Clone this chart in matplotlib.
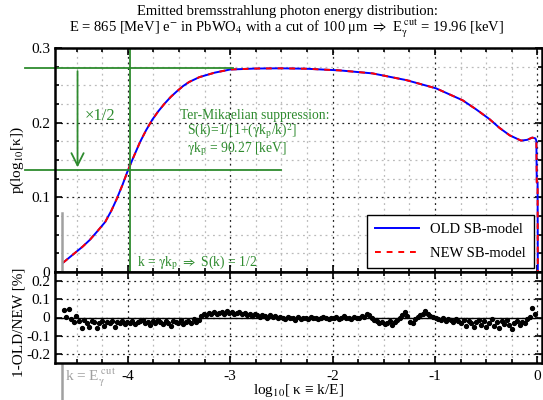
import numpy as np
import matplotlib
matplotlib.use('Agg')
import matplotlib.pyplot as plt
from matplotlib.ticker import MultipleLocator, FixedLocator
from matplotlib.transforms import blended_transform_factory

plt.rcParams['font.family'] = ['Liberation Serif', 'DejaVu Serif']
plt.rcParams['mathtext.fontset'] = 'stix'
plt.rcParams['font.size'] = 11

# physics numbers shown in the chart
E_BEAM_MEV = 865.0
E_CUT_KEV = 19.96
GKP_KEV = 90.27
L_CUT = np.log10(E_CUT_KEV * 1e-3 / E_BEAM_MEV)
L_GKP = np.log10(GKP_KEV * 1e-3 / E_BEAM_MEV)

# distribution p(log10 kappa)
curve_L = [-4.63, -4.52, -4.44, -4.37, -4.3, -4.22, -4.16, -4.11, -4.05, -4.0,
           -3.94, -3.88, -3.82, -3.76, -3.7, -3.64, -3.58, -3.52, -3.46, -3.4,
           -3.3, -3.15, -3.0, -2.75, -2.5, -2.25, -1.93, -1.61, -1.28, -0.99,
           -0.73, -0.6, -0.47, -0.37, -0.27, -0.16, -0.1, -0.05, -0.02, -0.01,
           -0.006, 0.002, 0.004]
curve_old = [0.0126, 0.025, 0.034, 0.043, 0.054, 0.067, 0.082, 0.097, 0.117, 0.1355,
             0.155, 0.174, 0.19, 0.204, 0.2155, 0.2255, 0.2345, 0.242, 0.249, 0.2545,
             0.261, 0.267, 0.2712, 0.2725, 0.2728, 0.2722, 0.270, 0.266, 0.257, 0.246,
             0.230, 0.218, 0.205, 0.193, 0.183, 0.176, 0.177, 0.180, 0.179, 0.176,
             0.12, 0.12, 0.0]
curve_new = list(curve_old)

# relative difference 1-OLD/NEW [%]
resid_vals = [
    0.04, 0.005, 0.046, -0.01, -0.025, 0.01, -0.02, -0.055, -0.015, -0.03,
    -0.05, -0.02, -0.025, -0.055, -0.03, -0.02, -0.045, -0.025, -0.03, -0.02,
    -0.05, -0.025, -0.03, -0.02, -0.035, -0.025,
    -0.03, -0.02, -0.035, -0.025, -0.02, -0.015, -0.03, -0.025, -0.04, -0.02,
    -0.03, -0.015, -0.025, -0.035, -0.02, -0.03, -0.045, -0.02, -0.025, -0.03,
    -0.015, -0.035, -0.025, -0.02, -0.03, -0.01, -0.025, -0.015,
    0.01, 0.02, 0.015, 0.025, 0.02, 0.03, 0.02, 0.025, 0.03, 0.02,
    0.035, 0.025, 0.03, 0.02, 0.025, 0.03, 0.02, 0.025, 0.015, 0.02,
    0.01, 0.02, 0.015, 0.005, 0.015, 0.01, 0.0, 0.015, 0.005, 0.01, 0.0, 0.005,
    0.0, -0.01, 0.005, -0.005, 0.0, -0.015, 0.005, -0.01, 0.0, -0.005,
    -0.01, 0.005, -0.005, 0.0, -0.01, 0.0, 0.005, -0.005, -0.01, 0.0,
    -0.005, 0.005, -0.01, 0.0, 0.01, -0.005, 0.0, -0.01, 0.005, 0.0,
    -0.005, 0.01, 0.005, 0.02, 0.015, 0.0, -0.015, -0.02, -0.03, -0.025,
    -0.035, -0.03, -0.02, -0.04, -0.025, -0.015, 0.0, 0.015, 0.03, 0.01,
    -0.025, -0.03, -0.01, 0.005, 0.015, 0.02, 0.035, 0.02, 0.01, 0.005,
    -0.005, -0.01, -0.015, -0.005, -0.02, -0.01, -0.015, -0.025, -0.01, -0.02,
    -0.03, -0.015, -0.045, -0.02, -0.03, -0.05, -0.025, -0.015, -0.04, -0.02,
    -0.05, -0.03, -0.01, -0.045, -0.025, -0.06, -0.02, -0.035, -0.015, -0.04,
    -0.065, -0.03, -0.02, -0.04, -0.025, -0.03, -0.01, 0.005, 0.05, 0.02,
]
resid_L = np.linspace(-4.625, -0.025, len(resid_vals))

GREEN = '#2e8b2e'
GRAY = '#a0a0a0'

fig = plt.figure(figsize=(5.43, 4.0), dpi=100)
ax1 = fig.add_axes([55 / 543, 1 - 272 / 400, 487 / 543, 224 / 400])
ax2 = fig.add_axes([55 / 543, 1 - 363 / 400, 487 / 543, 91 / 400], sharex=ax1)

xlim = (-4.71, 0.045)

for ax in (ax1, ax2):
    ax.set_xlim(*xlim)
    ax.xaxis.set_major_locator(MultipleLocator(1))
    ax.xaxis.set_minor_locator(MultipleLocator(0.25))
    ax.tick_params(which='both', direction='in', top=True, right=True, width=1.2)
    ax.tick_params(which='major', length=5)
    ax.tick_params(which='minor', length=3)
    ax.grid(which='major', linestyle=(0, (1.5, 3)), color='#222222', linewidth=0.9)
    ax.grid(which='minor', linestyle=(0, (1.5, 3)), color='#bbbbbb', linewidth=0.9)
    for sp in ax.spines.values():
        sp.set_linewidth(1.8)

# top panel
ax1.set_ylim(0, 0.3)
ax1.yaxis.set_major_locator(FixedLocator([0, 0.1, 0.2, 0.3]))
ax1.yaxis.set_minor_locator(MultipleLocator(0.025))
ax1.set_yticklabels(['0', '0.1', '0.2', '0.3'])
ax1.tick_params(labelbottom=False)

ax1.plot(curve_L, curve_old, color='blue', linewidth=1.4, label='OLD SB-model')
ax1.plot(curve_L, curve_new, color='red', linewidth=1.4, linestyle=(0, (3, 3)),
         label='NEW SB-model')

pmax = max(curve_old)
ax1.plot([-5.0, -2.97], [pmax, pmax], color=GREEN, linewidth=1.3, clip_on=False)
ax1.plot([-5.0, -2.5], [pmax / 2, pmax / 2], color=GREEN, linewidth=1.3, clip_on=False)
ax1.plot([L_GKP, L_GKP], [0, 0.3], color=GREEN, linewidth=1.3)
ax1.annotate('', xy=(-4.49, pmax / 2), xytext=(-4.49, pmax),
             arrowprops=dict(arrowstyle='->', color=GREEN, lw=1.3,
                             mutation_scale=22))
ax1.text(-4.42, 0.209, '×1/2', color=GREEN, fontsize=12, va='center', ha='left')
ax1.text(-3.49, 0.210, 'Ter-Mikaelian suppression:', color=GREEN, fontsize=9.8,
         va='center', ha='left')
ax1.text(-3.42, 0.188, r'S(k)=1/[1+($\mathrm{\gamma}$k$_\mathrm{p}$/k)$^2$]',
         color=GREEN, fontsize=9.8, va='center', ha='left')
ax1.text(-3.42, 0.165, r'$\mathrm{\gamma}$k$_\mathrm{p}$ = 90.27 [keV]',
         color=GREEN, fontsize=9.8, va='center', ha='left')
ax1.text(-3.91, 0.013,
         r'k = $\mathrm{\gamma}$k$_\mathrm{p}$ $\Rightarrow$ S(k) = 1/2',
         color=GREEN, fontsize=9.8, va='center', ha='left')

leg = ax1.legend(loc='lower right', bbox_to_anchor=(0.984, 0.018), fontsize=10.5,
                 fancybox=False, edgecolor='black', framealpha=1,
                 handlelength=3.0, labelspacing=0.75, borderpad=0.55,
                 borderaxespad=0)
leg.get_frame().set_linewidth(1.0)

ax1.set_ylabel(r'p(log$_{10}$[κ])', fontsize=11)
ax1.yaxis.set_label_coords(-0.06, 0.5)

# bottom panel
ax2.set_ylim(-0.25, 0.25)
ax2.yaxis.set_major_locator(FixedLocator([-0.2, -0.1, 0, 0.1, 0.2]))
ax2.set_yticklabels(['-0.2', '-0.1', '0', '0.1', '0.2'])
ax2.grid(which='minor', axis='y', visible=False)
ax2.axhline(0, color='black', linewidth=1.0)
ax2.plot(resid_L, resid_vals, linestyle='none', marker='o', markersize=2.8,
         color='black')
ax2.set_xticks([-4, -3, -2, -1, 0])
ax2.set_xticklabels(['-4', '-3', '-2', '-1', '0'])
ax2.tick_params(axis='x', pad=5)
ax2.set_ylabel('1-OLD/NEW [%]', fontsize=11)
ax2.yaxis.set_label_coords(-0.06, 0.45)
ax2.set_xlabel(r'log$_{10}$[ κ ≡ k/E]', fontsize=11, labelpad=-1)

# energy cut marker, spans both panels down to the figure edge
tr = blended_transform_factory(ax1.transData, fig.transFigure)
ax1.plot([L_CUT, L_CUT], [0.0, 1 - 213 / 400], color=GRAY, linewidth=1.8,
         transform=tr, clip_on=False)
fig.text(65 / 543, 1 - 378 / 400, r'k = E$_\mathrm{\gamma}^{\ \mathrm{cut}}$', color=GRAY,
         fontsize=11, va='center', ha='left')

fig.text(287 / 543, 1 - 11 / 400,
         'Emitted bremsstrahlung photon energy distribution:',
         ha='center', va='center', fontsize=10.5)
fig.text(287 / 543, 1 - 29 / 400,
         r'E = 865 [MeV] e$^{-}$ in PbWO$_4$ with a cut of 100 μm $\Rightarrow$ '
         r'E$_\mathrm{\gamma}^{\ \mathrm{cut}}$ = 19.96 [keV]',
         ha='center', va='center', fontsize=10.5)

fig.savefig('out.png', dpi=100)
